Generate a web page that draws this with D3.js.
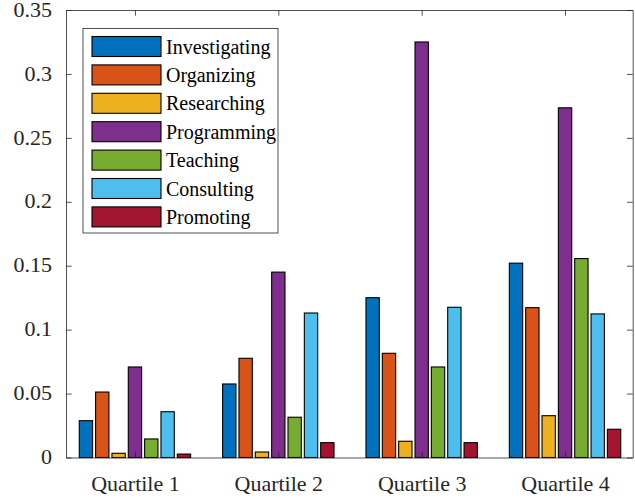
<!DOCTYPE html>
<html><head><meta charset="utf-8">
<script src="https://cdn.jsdelivr.net/npm/d3@7/dist/d3.min.js"></script>
<style>body{margin:0;background:#fff}svg{display:block}</style>
</head><body>
<script>
const categories = ["Quartile 1","Quartile 2","Quartile 3","Quartile 4"];
const seriesNames = ["Investigating","Organizing","Researching","Programming","Teaching","Consulting","Promoting"];
const investigating = [0.0288,0.0575,0.125,0.152];
const organizing    = [0.0512,0.0776,0.0815,0.1172];
const researching   = [0.0033,0.0043,0.0127,0.0327];
const programming   = [0.0708,0.145,0.325,0.2735];
const teaching      = [0.0145,0.0315,0.0708,0.1556];
const consulting    = [0.0358,0.113,0.1175,0.1123];
const promoting     = [0.0027,0.0116,0.0116,0.0221];
const yTicks = [0,0.05,0.1,0.15,0.2,0.25,0.3,0.35];
const yTickLabels = ["0","0.05","0.1","0.15","0.2","0.25","0.3","0.35"];
const colors = ["#0072BD","#D95319","#EDB120","#7E2F8E","#77AC30","#4DBEEE","#A2142F"];

const series = [investigating,organizing,researching,programming,teaching,consulting,promoting];
const W = 635, H = 500;
const L = 66, R = 632.7, T = 10, B = 457.5;
const axisColor = "#262626";
const font = "Liberation Serif";

const svg = d3.select("body").append("svg").attr("width",W).attr("height",H);
const x = d3.scaleLinear().domain([0.519,4.472]).range([L,R]);
const y = d3.scaleLinear().domain([0,0.35]).range([B,T]);

const pitch = 0.114, bw = 0.093;
const g = svg.append("g");
series.forEach((vals,si)=>{
  g.selectAll(null).data(vals).enter().append("rect")
    .attr("x",(d,i)=>x(i+1+(si-3)*pitch-bw/2))
    .attr("width",x(bw)-x(0))
    .attr("y",d=>y(d))
    .attr("height",d=>y(0)-y(d))
    .attr("fill",colors[si])
    .attr("stroke","#000").attr("stroke-width",1.1);
});

const yAxisL = d3.axisLeft(y).tickValues(yTicks).tickFormat((d,i)=>yTickLabels[i]).tickSizeInner(-5.7).tickSizeOuter(0).tickPadding(14);
const yAxisR = d3.axisRight(y).tickValues(yTicks).tickFormat("").tickSizeInner(-5.7).tickSizeOuter(0);
const xAxisB = d3.axisBottom(x).tickValues([1,2,3,4]).tickFormat((d,i)=>categories[i]).tickSizeInner(-5.7).tickSizeOuter(0).tickPadding(14);
const xAxisT = d3.axisTop(x).tickValues([1,2,3,4]).tickFormat("").tickSizeInner(-5.7).tickSizeOuter(0);

function style(sel){
  sel.attr("font-family",font);
  sel.select(".domain").attr("stroke",axisColor).attr("stroke-width",0.8);
  sel.selectAll(".tick line").attr("stroke",axisColor).attr("stroke-width",0.8);
  sel.selectAll(".tick text").attr("fill",axisColor).attr("font-family",font).attr("font-size",22);
}
const gl = svg.append("g").attr("transform",`translate(${L},0)`).call(yAxisL); style(gl);
gl.selectAll(".tick text").attr("dy","0.28em");
const gr = svg.append("g").attr("transform",`translate(${R},0)`).call(yAxisR); style(gr);
const gb = svg.append("g").attr("transform",`translate(0,${B})`).call(xAxisB); style(gb);
gb.selectAll(".tick text").attr("dy","0.9em");
const gt = svg.append("g").attr("transform",`translate(0,${T})`).call(xAxisT); style(gt);

const lg = svg.append("g");
lg.append("rect").attr("x",83).attr("y",28.5).attr("width",195).attr("height",204.5)
  .attr("fill","#fff").attr("stroke",axisColor).attr("stroke-width",0.8);
seriesNames.forEach((name,i)=>{
  const cy = 46.5 + i*28.4;
  lg.append("rect").attr("x",92).attr("y",cy-10).attr("width",69).attr("height",20)
    .attr("fill",colors[i]).attr("stroke","#000").attr("stroke-width",1.1);
  lg.append("text").attr("x",166).attr("y",cy).attr("dy","0.35em")
    .attr("fill","#000").attr("font-family",font).attr("font-size",20).text(name);
});
</script>
</body></html>
